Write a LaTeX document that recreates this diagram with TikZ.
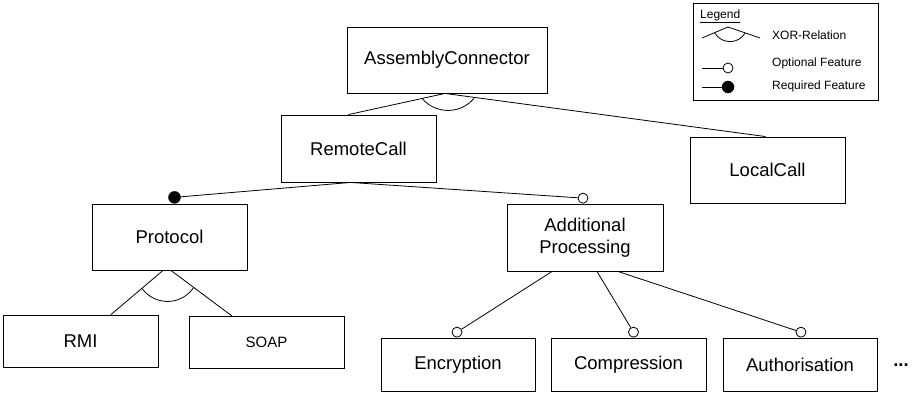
\documentclass[tikz,border=0pt]{standalone}
\usepackage{fontspec}
\setmainfont{Liberation Sans}
\usetikzlibrary{calc}
\begin{document}
\begin{tikzpicture}[x=1pt,y=1pt,
  feat/.style={draw=black, line width=0.9pt, rectangle, inner sep=0pt, align=center,
    font=\fontsize{18.5}{22.5}\selectfont},
  big/.style={feat, minimum width=155pt, minimum height=67pt},
  small/.style={feat, minimum width=155pt, minimum height=52pt},
  link/.style={draw=black, line width=0.8pt},
  optc/.style={circle, draw=black, line width=0.8pt, fill=white, minimum size=10pt, inner sep=0pt, anchor=south},
  reqc/.style={circle, draw=black, fill=black, minimum size=12pt, inner sep=0pt, anchor=south},
  legtext/.style={font=\fontsize{12}{14}\selectfont, anchor=west, inner sep=0pt}
]
\useasboundingbox (0,0) rectangle (915,-394);

% nodes
\node[feat, minimum width=200pt, minimum height=66pt] (ac) at (447,-60) {AssemblyConnector};
\node[big] (rc) at (358.5,-148.5) {RemoteCall};
\node[big, minimum height=66pt] (lc) at (767.5,-170) {LocalCall};
\node[big, minimum height=66pt] (pr) at (169.5,-237) {Protocol};
\node[big, minimum width=156pt] (ap) at (585,-237.5) {Additional\\Processing};
\node[small] (rmi) at (80.5,-341) {RMI};
\node[small, font=\fontsize{15}{18}\selectfont] (soap) at (266.5,-342.5) {SOAP};
\node[small, minimum width=154pt, minimum height=53pt] (enc) at (458,-364.5) {Encryption};
\node[small, minimum width=155pt, minimum height=53pt] (comp) at (628.5,-364.5) {Compression};
\node[small, minimum width=154pt, minimum height=53pt] (auth) at (800,-364.5) {Authorisation};
\node[font=\fontsize{18.5}{22}\selectfont\bfseries, inner sep=0pt] (dots) at (901,-365.5) {...};

% feature markers
\node[reqc] (prc) at ($(pr.north)+(5,0)$) {};
\node[optc] (apc) at ($(ap.north)+(-2,0)$) {};
\node[optc] (encc) at ($(enc.north)+(-1,0)$) {};
\node[optc] (compc) at ($(comp.north)+(5,0)$) {};
\node[optc] (authc) at ($(auth.north)+(1,0)$) {};

% connection points
\coordinate (acb) at ($(ac.south)+(-2,0)$);
\coordinate (acx) at ($(ac.south)+(1,17)$);
\coordinate (rct) at ($(rc.north)+(-10,0)$);
\coordinate (rcb) at ($(rc.south)+(-8,0)$);
\coordinate (lct) at ($(lc.north)+(-2,0)$);
\coordinate (prb1) at ($(pr.south)+(-6.5,0)$);
\coordinate (prb2) at ($(pr.south)+(1.5,0)$);
\coordinate (prx) at ($(pr.south)+(-2,0.5)$);
\coordinate (rmit) at ($(rmi.north)+(30.5,0)$);
\coordinate (soapt) at ($(soap.north)+(-34.5,0)$);
\coordinate (apb1) at ($(ap.south)+(-33,0)$);
\coordinate (apb2) at ($(ap.south)+(12,0)$);
\coordinate (apb3) at ($(ap.south)+(33,0)$);

% connectors
\draw[link] (acb) -- (rct);
\draw[link] (acb) -- (lct);
\draw[link] ($(acx)+(220:34)$) arc[start angle=220, end angle=320, radius=34];
\draw[link] (rcb) -- (prc);
\draw[link] (rcb) -- (apc);
\draw[link] (prb1) -- (rmit);
\draw[link] (prb2) -- (soapt);
\draw[link] ($(prx)+(215.5:31.5)$) arc[start angle=215.5, end angle=326, radius=31.5];
\draw[link] (apb1) -- (encc);
\draw[link] (apb2) -- (compc);
\draw[link] (apb3) -- (authc);

% legend
\node[draw=black, line width=0.9pt, minimum width=185pt, minimum height=97pt, inner sep=0pt] (leg) at (785.5,-51.5) {};
\node[legtext] (legt) at (700,-16) {\underline{Legend}};
\coordinate (xl) at (702,-38);
\coordinate (xm) at (728,-27);
\coordinate (xr) at (760,-38);
\coordinate (xc) at (730,-24);
\draw[link] (xl) -- (xm) -- (xr);
\draw[link] ($(xc)+(211:17.6)$) arc[start angle=211, end angle=329, radius=17.6];
\node[legtext] (lx) at (772,-35) {XOR-Relation};
\coordinate (ol) at (702,-68);
\node[optc, anchor=center] (oc) at (728,-68) {};
\draw[link] (ol) -- (oc);
\node[legtext] (lo) at (772,-63) {Optional Feature};
\coordinate (rl) at (702,-87);
\node[reqc, anchor=center] (rqc) at (728,-87) {};
\draw[link] (rl) -- (rqc);
\node[legtext] (lr) at (772,-86) {Required Feature};
\end{tikzpicture}
\end{document}
